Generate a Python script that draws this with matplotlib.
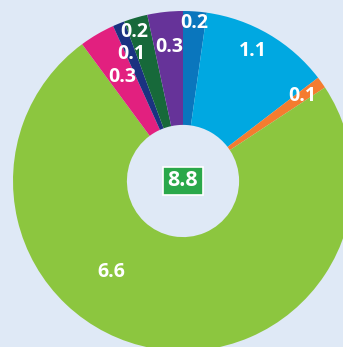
import numpy as np
import matplotlib.pyplot as plt
from matplotlib.patches import FancyBboxPatch

# slices clockwise from 12 o'clock
values = [0.2, 1.1, 0.1, 6.6, 0.3, 0.1, 0.2, 0.3]
labels = ["0.2", "1.1", "0.1", "6.6", "0.3", "0.1", "0.2", "0.3"]
colors = ["#0a76bd", "#00a8e1", "#f47c2f", "#8cc63f",
          "#e2207f", "#1b3281", "#17693a", "#663399"]
total_label = "8.8"

# label placement: radius (fraction of outer radius) and clockwise angle shift in degrees
label_r = [0.93, 0.87, 0.86, 0.68, 0.71, 0.81, 0.92, 0.79]
label_shift = [0, -2, 0, 28, 0, 0, -2, 0]

bg = "#dfe9f6"
fig = plt.figure(figsize=(3.43, 3.47), dpi=100, facecolor=bg)
ax = fig.add_axes([0, 0, 1, 1])
ax.set_facecolor(bg)

wedges, _ = ax.pie(values, colors=colors, startangle=90, counterclock=False,
                   radius=1.0, wedgeprops=dict(width=0.67, linewidth=0))

for w, lab, r, sh in zip(wedges, labels, label_r, label_shift):
    mid = np.deg2rad((w.theta1 + w.theta2) / 2 - sh)
    ax.text(r * np.cos(mid), r * np.sin(mid), lab, color="white",
            fontsize=14, fontweight="bold", family="Open Sans",
            ha="center", va="center")

# total in the middle
ax.add_patch(FancyBboxPatch((-0.12, -0.085), 0.24, 0.165,
                            boxstyle="square,pad=0", fc="#2aa84a",
                            ec="white", lw=1.2))
ax.text(0, 0, total_label, color="white", fontsize=15.5, fontweight="bold",
        family="Open Sans", ha="center", va="center")

R = 170.0
ax.set_xlim(-183 / R, (343 - 183) / R)
ax.set_ylim(-(347 - 181) / R, 181 / R)
ax.set_aspect("auto")
ax.axis("off")

fig.savefig("out.png", dpi=100, facecolor=bg)
